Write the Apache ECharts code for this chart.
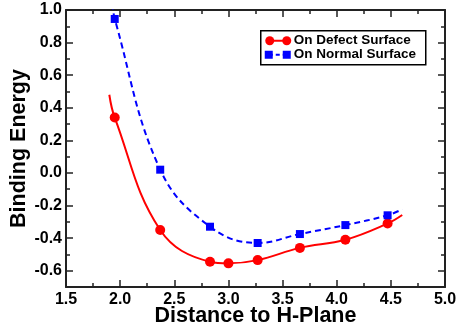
<!DOCTYPE html>
<html>
<head>
<meta charset="utf-8">
<script src="https://cdn.jsdelivr.net/npm/echarts@6/dist/echarts.min.js"></script>
<style>
  html, body { margin: 0; padding: 0; background: #fff; }
  #chart { width: 456px; height: 334px; }
</style>
</head>
<body>
<div id="chart"></div>
<script>
// distances where the binding energy was computed
const defectX = [1.95, 2.37, 2.83, 3.0, 3.27, 3.66, 4.08, 4.47];
const defectY = [0.34, -0.35, -0.545, -0.555, -0.535, -0.46, -0.41, -0.31];
const normalX = [1.95, 2.37, 2.83, 3.27, 3.66, 4.08, 4.47];
const normalY = [0.945, 0.02, -0.33, -0.43, -0.375, -0.32, -0.26];
// fitted curve runs a bit past the first and last points
const defectEnds = [[1.90, 0.48], [4.605, -0.258]];
const normalEnds = [[1.93, 1.04], [4.605, -0.223]];

const xTicks = ['1.5', '2.0', '2.5', '3.0', '3.5', '4.0', '4.5', '5.0'];
const yTicks = ['-0.6', '-0.4', '-0.2', '0.0', '0.2', '0.4', '0.6', '0.8', '1.0'];
const yMinor = ['-0.7', '-0.5', '-0.3', '-0.1', '0.1', '0.3', '0.5', '0.7', '0.9'];

const FONT = "'Liberation Sans', Arial, sans-serif";
const RED = '#ff0000';
const BLUE = '#0000ff';
const FRAME = '#222';

const yMajorVals = yTicks.map(Number);
const yMinorVals = yMinor.map(Number);

function curveData(xs, ys, ends) {
    const pts = xs.map((x, i) => [x, ys[i]]);
    return [
        {value: ends[0], symbol: 'none'},
        ...pts,
        {value: ends[1], symbol: 'none'}
    ];
}

function ticks(len, values) {
    const t = {show: true, inside: true, length: len, lineStyle: {color: FRAME, width: 1.5}};
    if (values) t.customValues = values;
    return t;
}
const minorX = {show: true, splitNumber: 2, length: 4, lineStyle: {color: FRAME, width: 1.5}};
const frameLine = {show: true, onZero: false, lineStyle: {color: FRAME, width: 2}};
const labelFont = {fontSize: 16, fontWeight: 'bold', color: '#000', fontFamily: FONT};
const nameFont = {fontSize: 21.5, fontWeight: 'bold', color: '#000', fontFamily: FONT};

function yAxis(pos, values, len, extra) {
    return Object.assign({
        type: 'value', min: -0.7, max: 1.0, interval: 0.1, position: pos,
        axisLine: {show: false, onZero: false},
        axisTick: ticks(len, values),
        splitLine: {show: false},
        axisLabel: {show: false}
    }, extra || {});
}

const chart = echarts.init(document.getElementById('chart'), null, {renderer: 'canvas'});

chart.setOption({
    animation: false,
    backgroundColor: '#fff',
    textStyle: {fontFamily: FONT},
    grid: {left: 66, right: 11, top: 10, bottom: 47, containLabel: false, outerBoundsMode: 'none'},
    xAxis: [
        {
            type: 'value', min: 1.5, max: 5.0, interval: 0.5,
            name: 'Distance to H-Plane',
            nameLocation: 'middle', nameGap: 18, nameMoveOverlap: false,
            nameTextStyle: nameFont,
            axisLine: frameLine,
            axisTick: ticks(7),
            minorTick: minorX,
            splitLine: {show: false},
            axisLabel: Object.assign({
                margin: 5,
                formatter: (v) => xTicks.find((t) => Math.abs(parseFloat(t) - v) < 1e-6) || ''
            }, labelFont)
        },
        {
            type: 'value', min: 1.5, max: 5.0, interval: 0.5, position: 'top',
            axisLine: frameLine,
            axisTick: ticks(7),
            minorTick: minorX,
            splitLine: {show: false},
            axisLabel: {show: false}
        }
    ],
    yAxis: [
        yAxis('left', yMajorVals, 7, {
            name: 'Binding Energy',
            nameLocation: 'middle', nameGap: 36, nameMoveOverlap: false,
            nameTextStyle: nameFont,
            axisLine: frameLine,
            axisLabel: Object.assign({
                show: true, margin: 4,
                customValues: yMajorVals,
                formatter: (v) => yTicks.find((t) => Math.abs(parseFloat(t) - v) < 1e-6) || ''
            }, labelFont)
        }),
        yAxis('left', yMinorVals, 4),
        yAxis('right', yMajorVals, 7, {axisLine: frameLine}),
        yAxis('right', yMinorVals, 4)
    ],
    series: [
        {
            name: 'On Defect Surface',
            type: 'line',
            xAxisIndex: 0, yAxisIndex: 0,
            data: curveData(defectX, defectY, defectEnds),
            smooth: 0.4,
            symbol: 'circle', symbolSize: 10,
            itemStyle: {color: RED},
            lineStyle: {color: RED, width: 2},
            z: 3
        },
        {
            name: 'On Normal Surface',
            type: 'line',
            xAxisIndex: 0, yAxisIndex: 0,
            data: curveData(normalX, normalY, normalEnds),
            smooth: 0.4,
            symbol: 'rect', symbolSize: 8,
            itemStyle: {color: BLUE},
            lineStyle: {color: BLUE, width: 2, type: [6, 4]},
            z: 3
        }
    ],
    graphic: [
        {
            type: 'group', left: 260, top: 30,
            children: [
                {type: 'rect', shape: {x: 0, y: 0, width: 165, height: 34},
                    style: {fill: '#fff', stroke: '#000', lineWidth: 1.5}},
                {type: 'line', shape: {x1: 9, y1: 10, x2: 26, y2: 10},
                    style: {stroke: RED, lineWidth: 2}},
                {type: 'circle', shape: {cx: 9, cy: 10, r: 4.5}, style: {fill: RED}},
                {type: 'circle', shape: {cx: 26, cy: 10, r: 4.5}, style: {fill: RED}},
                {type: 'text', x: 33, y: 10,
                    style: {text: 'On Defect Surface', font: 'bold 13.5px ' + FONT, fill: '#000', verticalAlign: 'middle'}},
                {type: 'line', shape: {x1: 8, y1: 24, x2: 26, y2: 24},
                    style: {stroke: BLUE, lineWidth: 2, lineDash: [4, 3]}},
                {type: 'rect', shape: {x: 4, y: 20, width: 8, height: 8}, style: {fill: BLUE}},
                {type: 'rect', shape: {x: 22, y: 20, width: 8, height: 8}, style: {fill: BLUE}},
                {type: 'text', x: 33, y: 24,
                    style: {text: 'On Normal Surface', font: 'bold 13.5px ' + FONT, fill: '#000', verticalAlign: 'middle'}}
            ]
        }
    ]
});
</script>
</body>
</html>
